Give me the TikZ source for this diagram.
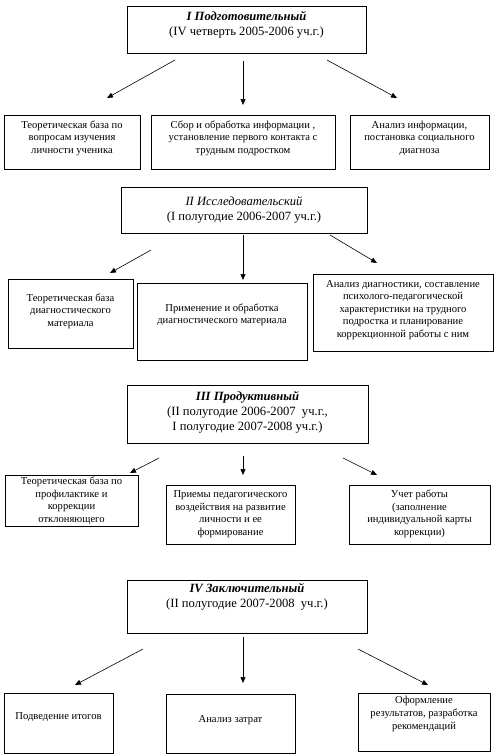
\documentclass[tikz,border=0pt]{standalone}
\usepackage{fontspec}
\setmainfont{Liberation Serif}
\usetikzlibrary{arrows.meta,fit}
\newcommand{\bodyfnt}{\fontsize{10.6}{12.6}\selectfont}
\newcommand{\hdrfnt}{\fontsize{12.6}{15}\selectfont}
\newcommand{\bx}[5]{\node[boxst, fit={(#2,#3) (#4,#5)}] (#1) {};}
\begin{document}
\begin{tikzpicture}[x=1pt,y=-1pt,
  boxst/.style={draw, line width=0.8pt, inner sep=0pt},
  txt/.style={align=center, font=\bodyfnt, inner sep=0pt},
  hdr/.style={align=center, font=\hdrfnt, inner sep=0pt},
  arr/.style={-{Triangle[length=6pt,width=5pt]}, line width=0.6pt}]
\useasboundingbox (0,0) rectangle (497,756);
% ---- stage I
\bx{h1}{127}{6}{366}{53}
\node[hdr] (th1) at (246.5,25) {\textbf{\textit{I Подготовительный}}\\(IV четверть 2005-2006 уч.г.)};
\bx{bA}{4}{115}{140}{169}
\node[txt] (tA) at (72,138) {Теоретическая база по\\вопросам изучения\\личности ученика};
\bx{bB}{151}{115}{335}{169}
\node[txt] (tB) at (243,138) {Сбор и обработка информации ,\\установление первого контакта с\\трудным подростком};
\bx{bC}{350}{115}{489}{169}
\node[txt] (tC) at (419.5,138) {Анализ информации,\\постановка социального\\диагноза};
\coordinate (s1a) at (175,60); \coordinate (e1a) at (107,98);
\coordinate (s1b) at (243,61); \coordinate (e1b) at (243,105);
\coordinate (s1c) at (327,60); \coordinate (e1c) at (397,98);
\draw[arr] (s1a) -- (e1a);
\draw[arr] (s1b) -- (e1b);
\draw[arr] (s1c) -- (e1c);
% ---- stage II
\bx{h2}{121}{187}{367}{233}
\node[hdr] (th2) at (244,209.5) {\textit{II Исследовательский}\\(I полугодие 2006-2007 уч.г.)};
\bx{bD}{8}{279}{133}{348}
\node[txt] (tD) at (70.5,311) {Теоретическая база\\диагностического\\материала};
\bx{bE}{137}{283}{307}{360}
\node[txt] (tE) at (222,315) {Применение и обработка\\диагностического материала};
\bx{bF}{313}{274}{493}{351}
\node[txt] (tF) at (403,310) {Анализ диагностики, составление\\психолого-педагогической\\характеристики на трудного\\подростка и планирование\\коррекционной работы с ним};
\coordinate (s2a) at (151,250); \coordinate (e2a) at (110,273);
\coordinate (s2b) at (243,235); \coordinate (e2b) at (243,280);
\coordinate (s2c) at (330,235); \coordinate (e2c) at (377,263);
\draw[arr] (s2a) -- (e2a);
\draw[arr] (s2b) -- (e2b);
\draw[arr] (s2c) -- (e2c);
% ---- stage III
\bx{h3}{127}{385}{368}{443}
\node[hdr] (th3) at (247.5,412) {\textbf{\textit{III Продуктивный}}\\(II полугодие 2006-2007\ \ уч.г.,\\I полугодие 2007-2008 уч.г.)};
\bx{bG}{5}{475}{138}{526}
\node[txt] (tG) at (71.5,501) {Теоретическая база по\\профилактике и\\коррекции\\отклоняющего};
\bx{bH}{166}{485}{295}{544}
\node[txt] (tH) at (230.5,514) {Приемы педагогического\\воздействия на развитие\\личности и ее\\формирование};
\bx{bI}{349}{485}{490}{544}
\node[txt] (tI) at (419.5,514) {Учет работы\\(заполнение\\индивидуальной карты\\коррекции)};
\coordinate (s3a) at (159,458); \coordinate (e3a) at (130,473);
\coordinate (s3b) at (243,456); \coordinate (e3b) at (243,475);
\coordinate (s3c) at (343,458); \coordinate (e3c) at (377,475);
\draw[arr] (s3a) -- (e3a);
\draw[arr] (s3b) -- (e3b);
\draw[arr] (s3c) -- (e3c);
% ---- stage IV
\bx{h4}{127}{580}{367}{633}
\node[hdr] (th4) at (247,597) {\textbf{\textit{IV Заключительный}}\\(II полугодие 2007-2008\ \ уч.г.)};
\bx{bJ}{4}{693}{113}{753}
\node[txt] (tJ) at (58.5,717) {Подведение итогов};
\bx{bK}{166}{694}{295}{753}
\node[txt] (tK) at (230.5,720) {Анализ затрат};
\bx{bL}{358}{693}{490}{751}
\node[txt] (tL) at (424,714) {Оформление\\результатов, разработка\\рекомендаций};
\coordinate (s4a) at (143,649); \coordinate (e4a) at (75,685);
\coordinate (s4b) at (243,637); \coordinate (e4b) at (243,683);
\coordinate (s4c) at (358,649); \coordinate (e4c) at (428,685);
\draw[arr] (s4a) -- (e4a);
\draw[arr] (s4b) -- (e4b);
\draw[arr] (s4c) -- (e4c);
\end{tikzpicture}
\end{document}
